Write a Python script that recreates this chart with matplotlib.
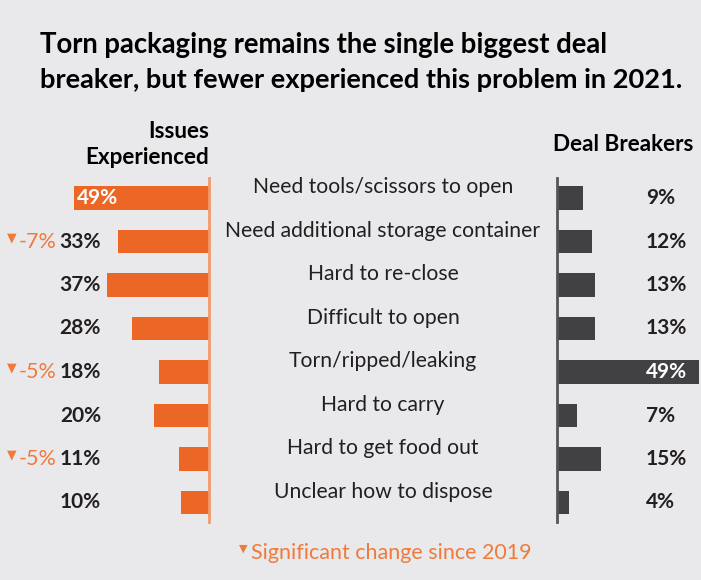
import matplotlib.pyplot as plt
from matplotlib.transforms import blended_transform_factory, offset_copy

categories = [
    "Need tools/scissors to open",
    "Need additional storage container",
    "Hard to re-close",
    "Difficult to open",
    "Torn/ripped/leaking",
    "Hard to carry",
    "Hard to get food out",
    "Unclear how to dispose",
]
issues = [49, 33, 37, 28, 18, 20, 11, 10]
breakers = [9, 12, 13, 13, 49, 7, 15, 4]
changes = ["", "-7%", "", "", "-5%", "", "-5%", ""]

bg = "#e9e9eb"
orange = "#ec6625"
orange_txt = "#f07a3c"
dark = "#414042"
txt = "#231f20"

plt.rcParams['font.family'] = ['Lato', 'DejaVu Sans']

W, H = 701, 580
fig = plt.figure(figsize=(W / 100, H / 100), dpi=100, facecolor=bg)

# axes spans in pixels (top of axis line 178, bottom 522)
top_px, bot_px = 178, 522
n = len(categories)
row0, row_step = 198, 43.5
y_lo = -(row0 - top_px) / row_step
y_hi = (n - 1) + (bot_px - (row0 + (n - 1) * row_step)) / row_step

def fy(px):
    return 1 - px / H

# left axes: bars grow leftwards from x=209
lx = 209
lscale = 2.76
axl = fig.add_axes([0, fy(bot_px), lx / W, (bot_px - top_px) / H])
axl.set_facecolor("none")
axl.barh(range(n), issues, height=0.55, color=orange)
axl.set_xlim(lx / lscale, 0)
axl.set_ylim(y_hi, y_lo)
for s in ["top", "bottom", "left"]:
    axl.spines[s].set_visible(False)
axl.spines["right"].set_color("#f29a6a")
axl.spines["right"].set_linewidth(2)
axl.set_xticks([])
axl.set_yticks([])

# right axes
rx = 557
rscale = 2.9
axr = fig.add_axes([rx / W, fy(bot_px), (W - rx) / W, (bot_px - top_px) / H])
axr.set_facecolor("none")
axr.barh(range(n), breakers, height=0.55, color=dark)
axr.set_xlim(0, (W - rx) / rscale)
axr.set_ylim(y_hi, y_lo)
for s in ["top", "bottom", "right"]:
    axr.spines[s].set_visible(False)
axr.spines["left"].set_color("#555557")
axr.spines["left"].set_linewidth(2)
axr.set_xticks([])
axr.set_yticks([])

tl = blended_transform_factory(fig.transFigure, axl.transData)
inside = offset_copy(axl.transData, fig=fig, x=3, y=0, units="dots")

for i in range(n):
    if issues[i] == max(issues):
        axl.text(issues[i], i, f"{issues[i]}%", transform=inside, ha="left", va="center",
                 fontsize=15, fontweight="bold", color="white")
    else:
        fig.text(101 / W, i, f"{issues[i]}%", transform=tl, ha="right", va="center",
                 fontsize=15, fontweight="bold", color=txt)
    big_r = breakers[i] == max(breakers)
    fig.text(646 / W, i, f"{breakers[i]}%", transform=tl, ha="left", va="center",
             fontsize=15, fontweight="bold", color="white" if big_r else txt)
    fig.text(383 / W, i - 0.25, categories[i], transform=tl, ha="center", va="center",
             fontsize=15.2, color=txt)
    if changes[i]:
        fig.text(12 / W, i - 0.09, "\u25bc", transform=tl, ha="center", va="center",
                 fontsize=9, color=orange_txt, family="DejaVu Sans")
        fig.text(57 / W, i, changes[i], transform=tl, ha="right", va="center",
                 fontsize=15.5, color=orange_txt)

# headers
fig.text(209 / W, fy(132), "Issues", ha="right", va="center", fontsize=16.2,
         fontweight="bold", color="black")
fig.text(209 / W, fy(158), "Experienced", ha="right", va="center", fontsize=16.2,
         fontweight="bold", color="black")
fig.text(693 / W, fy(144), "Deal Breakers", ha="right", va="center", fontsize=16.2,
         fontweight="bold", color="black")

# title
fig.text(40 / W, fy(45), "Torn packaging remains the single biggest deal",
         ha="left", va="center", fontsize=19.8, fontweight="bold", color="black")
fig.text(40 / W, fy(80), "breaker, but fewer experienced this problem in 2021.",
         ha="left", va="center", fontsize=19.6, fontweight="bold", color="black")

# footnote
fig.text(243 / W, fy(549), "\u25bc", ha="center", va="center", fontsize=8,
         color=orange_txt, family="DejaVu Sans")
fig.text(251 / W, fy(553), "Significant change since 2019", ha="left", va="center",
         fontsize=15.5, color=orange_txt)

fig.savefig("out.png", dpi=100, facecolor=bg)
